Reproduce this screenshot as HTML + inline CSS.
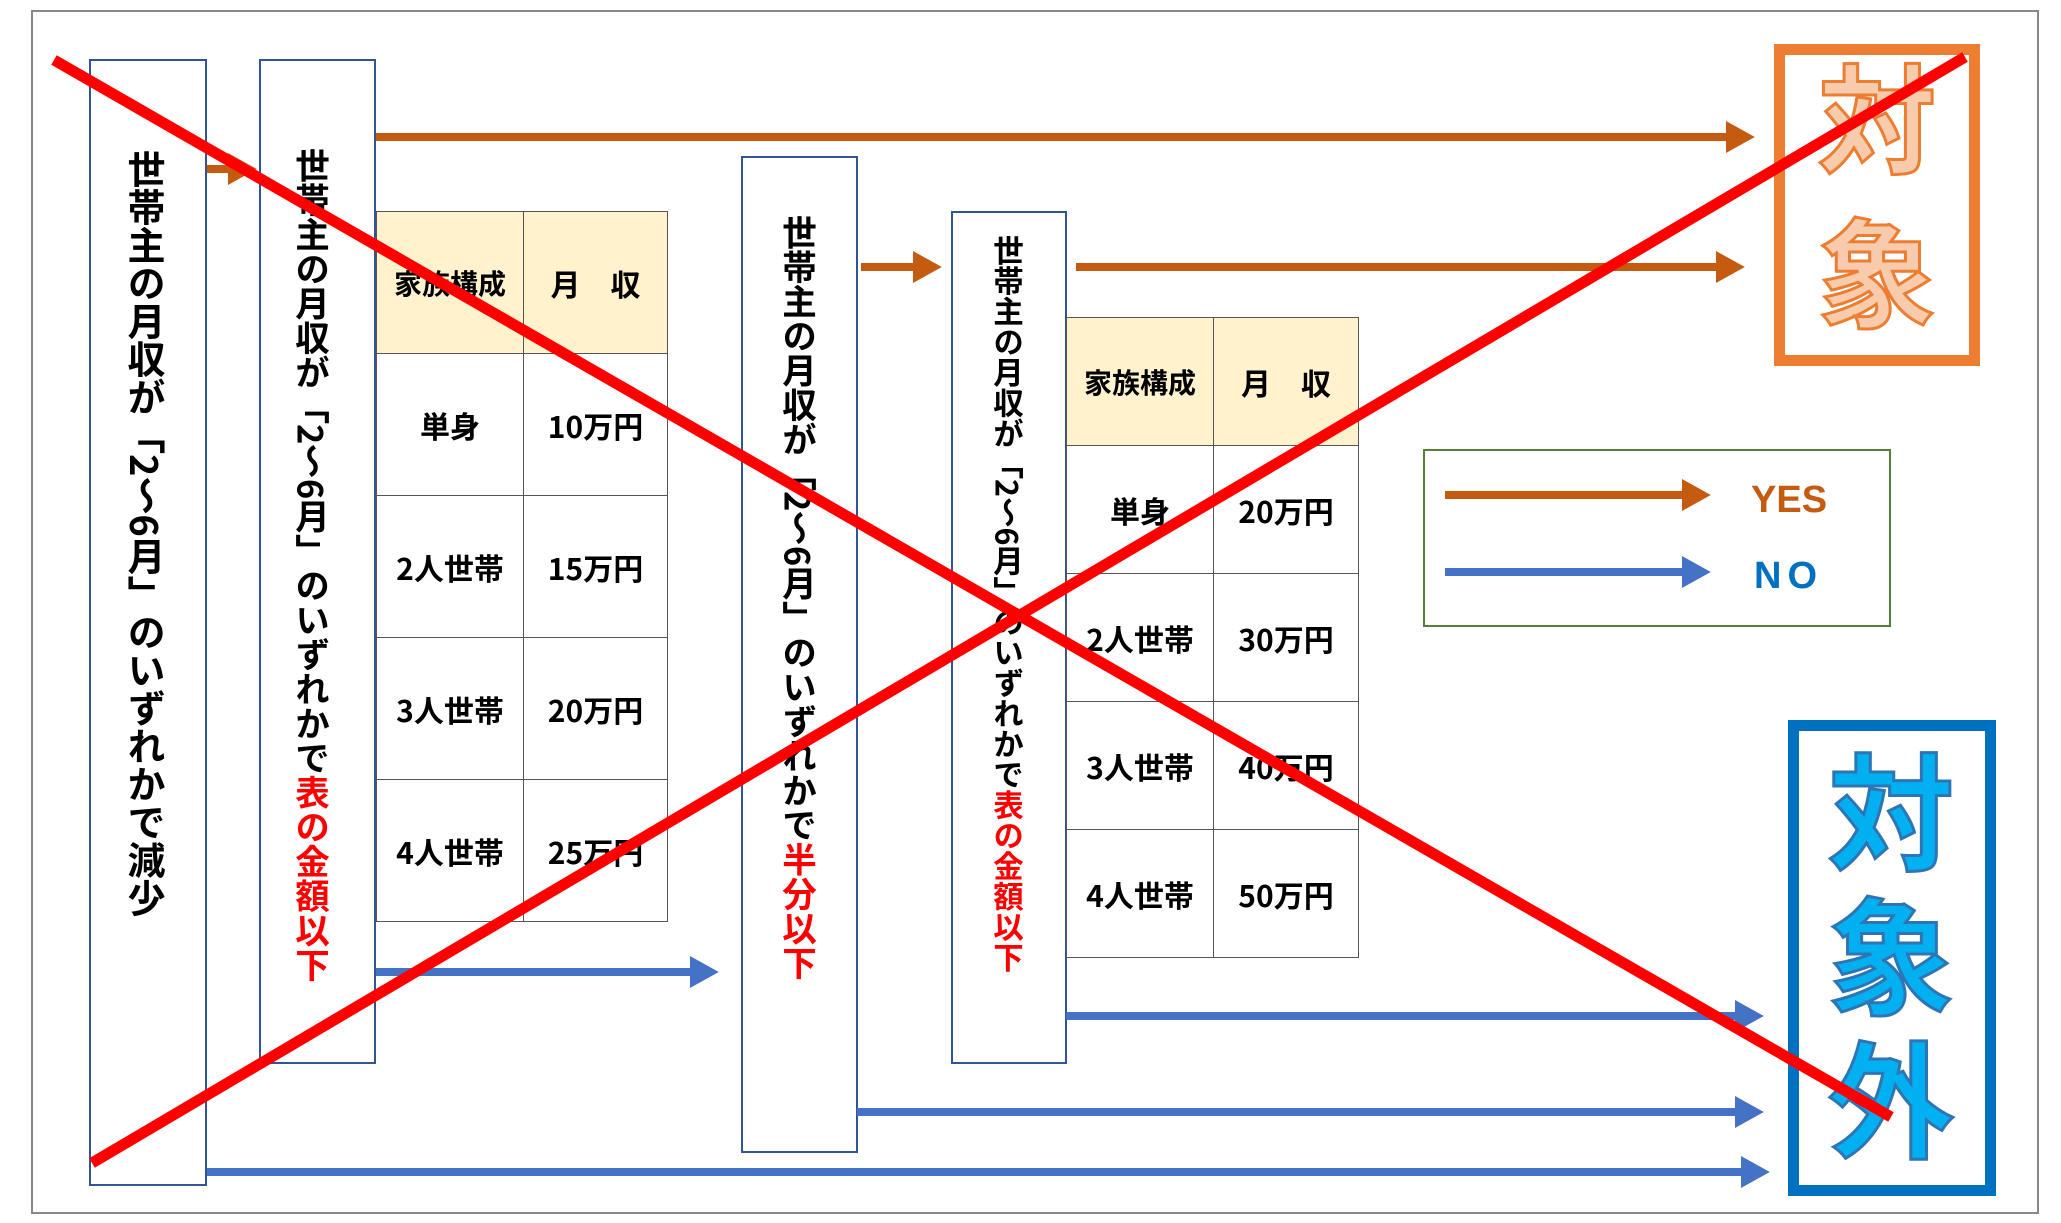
<!DOCTYPE html>
<html><head><meta charset="utf-8"><style>
body{margin:0;width:2061px;height:1223px;background:#fff;position:relative;overflow:hidden;font-family:"Liberation Sans","Noto Sans CJK JP",sans-serif;}
.abs{position:absolute;box-sizing:border-box;}
.vbox{border:2px solid #2f5597;background:#fff;}
.vt{position:absolute;writing-mode:vertical-rl;font-weight:bold;color:#000;line-height:1;white-space:nowrap;font-family:"Noto Sans CJK JP",sans-serif;}
.r{color:#ff0000;}
table{border-collapse:collapse;position:absolute;font-family:"Noto Sans CJK JP",sans-serif;font-weight:bold;}
td{border:1.5px solid #555;text-align:center;padding:0;color:#000;}
.h td{background:#fff2cc;}
</style></head><body>
<div class="abs" style="left:31px;top:10px;width:2008px;height:1204px;border:2px solid #888;"></div>

<div class="abs vbox" style="left:89px;top:59px;width:118px;height:1127px;"></div>
<div class="vt" style="left:127px;top:150px;font-size:38px;">世帯主の月収が「2～6月」のいずれかで減少</div>

<div class="abs vbox" style="left:259px;top:59px;width:117px;height:1005px;"></div>
<div class="vt" style="left:295px;top:148px;font-size:34.5px;">世帯主の月収が「2～6月」のいずれかで<span class="r">表の金額以下</span></div>

<div class="abs vbox" style="left:741px;top:156px;width:117px;height:997px;"></div>
<div class="vt" style="left:782px;top:215px;font-size:34.5px;">世帯主の月収が「2～6月」のいずれかで<span class="r">半分以下</span></div>

<div class="abs vbox" style="left:951px;top:211px;width:116px;height:853px;"></div>
<div class="vt" style="left:993px;top:235px;font-size:30.5px;">世帯主の月収が「2～6月」のいずれかで<span class="r">表の金額以下</span></div>

<table style="left:376px;top:211px;width:292px;font-size:30px;">
<tr class="h" style="height:142px"><td style="width:146px;font-size:28px">家族構成</td><td>月　収</td></tr>
<tr style="height:142px"><td>単身</td><td>10万円</td></tr>
<tr style="height:142px"><td>2人世帯</td><td>15万円</td></tr>
<tr style="height:142px"><td>3人世帯</td><td>20万円</td></tr>
<tr style="height:142px"><td>4人世帯</td><td>25万円</td></tr>
</table>
<table style="left:1066px;top:317px;width:293px;font-size:30px;">
<tr class="h" style="height:128px"><td style="width:146px;font-size:28px">家族構成</td><td>月　収</td></tr>
<tr style="height:128px"><td>単身</td><td>20万円</td></tr>
<tr style="height:128px"><td>2人世帯</td><td>30万円</td></tr>
<tr style="height:128px"><td>3人世帯</td><td>40万円</td></tr>
<tr style="height:128px"><td>4人世帯</td><td>50万円</td></tr>
</table>

<div class="abs" style="left:1423px;top:449px;width:468px;height:178px;border:2px solid #538135;"></div>
<div class="abs" style="left:1774px;top:44px;width:206px;height:322px;border:11px solid #ed7d31;"></div>
<div class="abs" style="left:1788px;top:720px;width:208px;height:476px;border:11px solid #0070c0;"></div>

<svg class="abs" style="left:0;top:0" width="2061" height="1223" xmlns="http://www.w3.org/2000/svg">
<defs>
<marker id="ao" markerWidth="4" markerHeight="4" refX="0" refY="2" orient="auto" markerUnits="strokeWidth"><path d="M0,0 L3.6,2 L0,4z" fill="#c55a11"/></marker>
<marker id="ab" markerWidth="4" markerHeight="4" refX="0" refY="2" orient="auto" markerUnits="strokeWidth"><path d="M0,0 L3.6,2 L0,4z" fill="#4472c4"/></marker>
</defs>
<g stroke-width="8" fill="none">
<line x1="207" y1="169" x2="228" y2="169" stroke="#c55a11" marker-end="url(#ao)"/>
<line x1="376" y1="137" x2="1726" y2="137" stroke="#c55a11" marker-end="url(#ao)"/>
<line x1="861" y1="267" x2="913" y2="267" stroke="#c55a11" marker-end="url(#ao)"/>
<line x1="1076" y1="267" x2="1716" y2="267" stroke="#c55a11" marker-end="url(#ao)"/>
<line x1="1445" y1="495" x2="1682" y2="495" stroke="#c55a11" marker-end="url(#ao)"/>
<line x1="1445" y1="572" x2="1682" y2="572" stroke="#4472c4" marker-end="url(#ab)"/>
<line x1="376" y1="972" x2="690" y2="972" stroke="#4472c4" marker-end="url(#ab)"/>
<line x1="1066" y1="1016" x2="1735" y2="1016" stroke="#4472c4" marker-end="url(#ab)"/>
<line x1="857" y1="1112" x2="1735" y2="1112" stroke="#4472c4" marker-end="url(#ab)"/>
<line x1="207" y1="1172" x2="1741" y2="1172" stroke="#4472c4" marker-end="url(#ab)"/>
</g>
<text x="1751" y="512" font-family="Liberation Sans, sans-serif" font-size="38" font-weight="bold" fill="#c55a11">YES</text>
<text x="1754" y="588" font-family="Liberation Sans, sans-serif" font-size="38" font-weight="bold" fill="#0070c0" letter-spacing="6">NO</text>
<g font-family="Noto Sans CJK JP, sans-serif" font-weight="bold" text-anchor="middle">
<text x="1877" y="164" font-size="118" fill="#f8cbad" stroke="#ed7d31" stroke-width="3">対</text>
<text x="1877" y="318" font-size="118" fill="#f8cbad" stroke="#ed7d31" stroke-width="3">象</text>
<text x="1891" y="860" font-size="126" fill="#00b0f0" stroke="#2e75b6" stroke-width="3">対</text>
<text x="1891" y="1004" font-size="126" fill="#00b0f0" stroke="#2e75b6" stroke-width="3">象</text>
<text x="1891" y="1148" font-size="126" fill="#00b0f0" stroke="#2e75b6" stroke-width="3">外</text>
</g>
<line x1="54" y1="60" x2="1891" y2="1117" stroke="#ff0000" stroke-width="11"/>
<line x1="92" y1="1163" x2="1965" y2="57" stroke="#ff0000" stroke-width="11"/>
</svg>
</body></html>
